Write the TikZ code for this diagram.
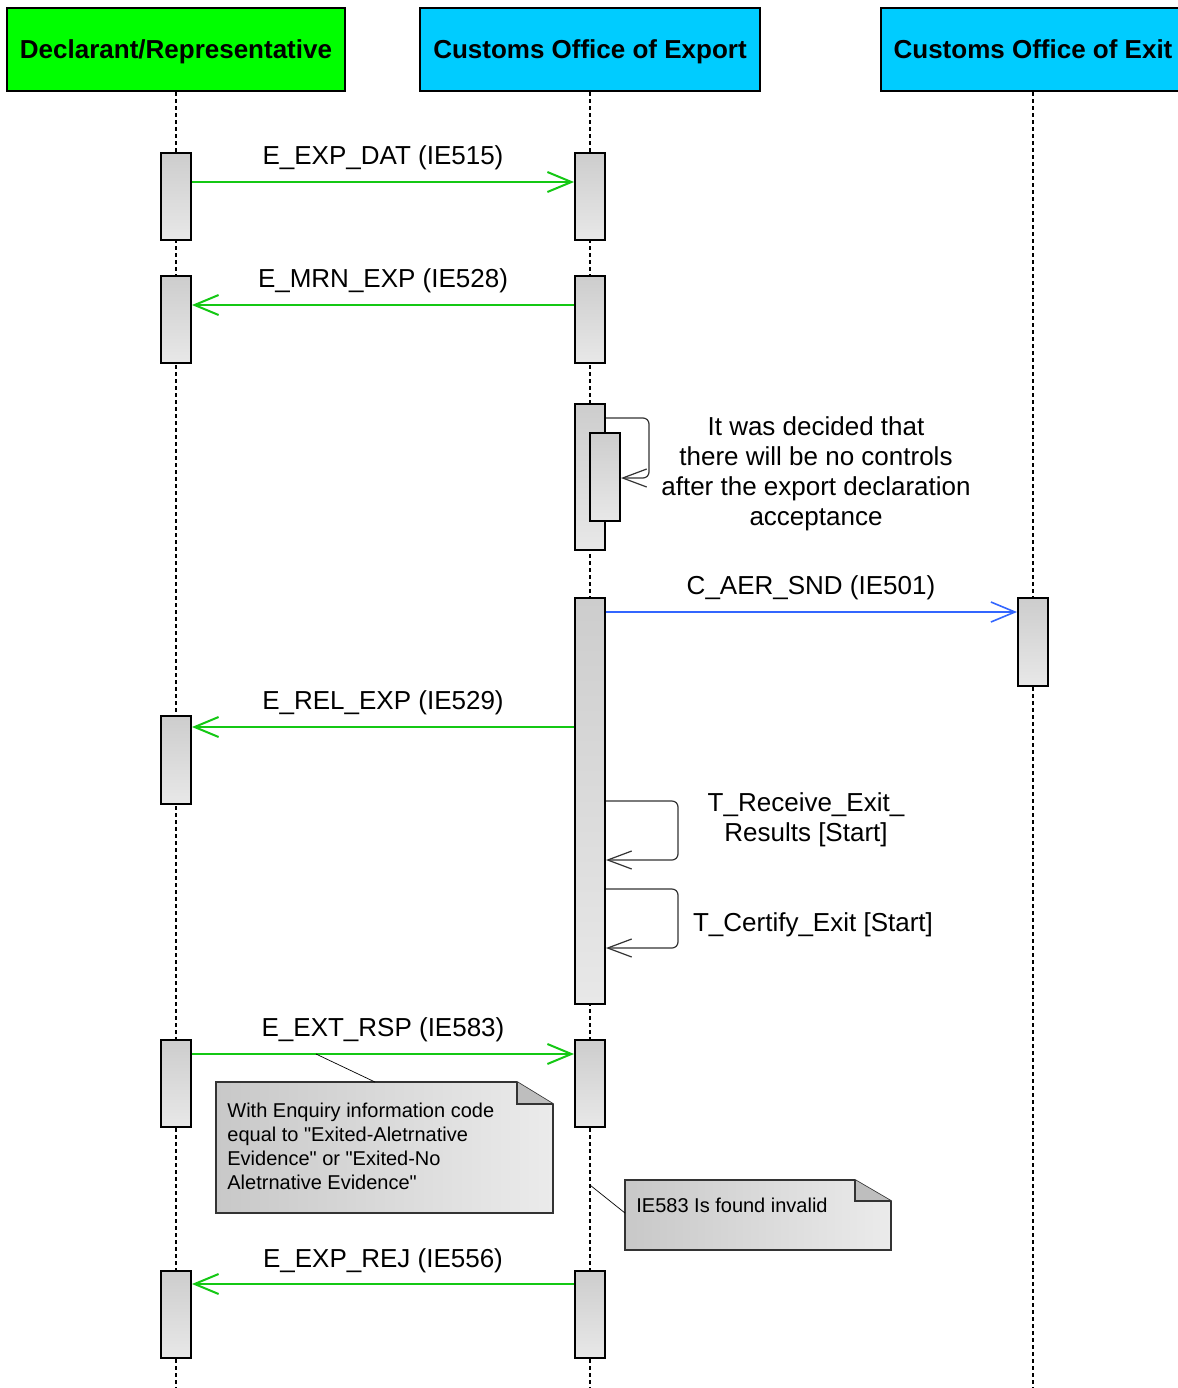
\documentclass[tikz,border=0pt]{standalone}
\usepackage{fontspec}
\setmainfont{Liberation Sans}
\usetikzlibrary{arrows.meta}
\definecolor{hdrgreen}{RGB}{0,255,0}
\definecolor{hdrcyan}{RGB}{0,204,255}
\definecolor{msggreen}{RGB}{20,200,20}
\definecolor{msgblue}{RGB}{51,102,255}
\definecolor{actTop}{RGB}{205,205,205}
\definecolor{actBot}{RGB}{232,232,232}
\definecolor{noteL}{RGB}{200,200,200}
\definecolor{noteR}{RGB}{235,235,235}
\definecolor{foldc}{RGB}{190,190,190}
\tikzset{
  header/.style={draw=black, line width=1pt, minimum width=#1, minimum height=41.5pt, font=\bfseries\fontsize{13}{15}\selectfont, inner sep=0, text height=11.5pt, text depth=2.5pt},
  lifeline/.style={black, line width=0.6pt, dash pattern=on 2pt off 1.5pt},
  act/.style={draw=black, line width=1pt, top color=actTop, bottom color=actBot, minimum width=15pt, minimum height=#1, inner sep=0},
  gmsg/.style={msggreen, line width=1pt, -{Straight Barb[length=12pt,width=10pt,line width=1pt]}},
  bmsg/.style={msgblue, line width=0.8pt, -{Straight Barb[length=12pt,width=10pt,line width=0.8pt]}},
  selfmsg/.style={black!80, line width=0.6pt, rounded corners=3pt, -{Straight Barb[length=12pt,width=9pt,line width=0.6pt]}},
  msglabel/.style={font=\fontsize{13}{15}\selectfont, anchor=base, inner sep=0},
  notebody/.style={draw=black!80, line width=0.8pt, left color=noteL, right color=noteR},
  notelink/.style={black, line width=0.35pt},
}
\begin{document}
\begin{tikzpicture}[x=0.5pt,y=-0.5pt]
\useasboundingbox (0,0) rectangle (1178,1388);
\clip (0,0) rectangle (1178,1388);
\fill[white] (0,0) rectangle (1178,1388);

% headers
\node[header=169pt, fill=hdrgreen] (h1) at (176,49.5) {Declarant/Representative};
\node[header=170pt, fill=hdrcyan] (h2) at (590,49.5) {Customs Office of Export};
\node[header=152pt, fill=hdrcyan] (h3) at (1033,49.5) {Customs Office of Exit};

% lifelines
\coordinate (e1) at (176,1388);
\coordinate (e2) at (590,1388);
\coordinate (e3) at (1033,1388);
\draw[lifeline] (h1.south) -- (e1);
\draw[lifeline] (h2.south) -- (e2);
\draw[lifeline] (h3.south) -- (e3);

% activation boxes
\node[act=43.5pt] (a1) at (176,196.5) {};
\node[act=43.5pt] (a2) at (176,319.5) {};
\node[act=44pt]   (a3) at (176,760) {};
\node[act=43.5pt] (a4) at (176,1083.5) {};
\node[act=43.5pt] (a5) at (176,1314.5) {};

\node[act=43.5pt] (b1) at (590,196.5) {};
\node[act=43.5pt] (b2) at (590,319.5) {};
\node[act=73pt]   (b3) at (590,477) {};
\node[act=44pt]   (b3i) at (605,477) {};
\node[act=203pt]  (b4) at (590,801) {};
\node[act=43.5pt] (b5) at (590,1083.5) {};
\node[act=43.5pt] (b6) at (590,1314.5) {};

\node[act=44pt]   (c1) at (1033,642) {};

% messages
\draw[gmsg] (a1.east |- 0,182) -- (b1.west |- 0,182);
\node[msglabel] (l1) at (383,164) {E\_EXP\_DAT (IE515)};

\draw[gmsg] (b2.west |- 0,305) -- (a2.east |- 0,305);
\node[msglabel] (l2) at (383,287) {E\_MRN\_EXP (IE528)};

\draw[selfmsg] (b3.east |- 0,418) -- (649,418) -- (649,478) -- (b3i.east |- 0,478);
\node[font=\fontsize{13}{15}\selectfont, align=center, inner sep=0] (n1) at (816,474)
  {It was decided that\\there will be no controls\\after the export declaration\\acceptance};

\draw[bmsg] (b4.east |- 0,612) -- (c1.west |- 0,612);
\node[msglabel] (l3) at (811,594) {C\_AER\_SND (IE501)};

\draw[gmsg] (b4.west |- 0,727) -- (a3.east |- 0,727);
\node[msglabel] (l4) at (383,709) {E\_REL\_EXP (IE529)};

\draw[selfmsg] (b4.east |- 0,801) -- (678,801) -- (678,860) -- (b4.east |- 0,860);
\node[font=\fontsize{13}{15}\selectfont, align=center, inner sep=0] (n2) at (806,820)
  {T\_Receive\_Exit\_\\Results [Start]};

\draw[selfmsg] (b4.east |- 0,889) -- (678,889) -- (678,948) -- (b4.east |- 0,948);
\node[msglabel] (l5) at (813,931) {T\_Certify\_Exit [Start]};

\draw[gmsg] (a4.east |- 0,1054) -- (b5.west |- 0,1054);
\node[msglabel] (l6) at (383,1036) {E\_EXT\_RSP (IE583)};

\draw[gmsg] (b6.west |- 0,1284) -- (a5.east |- 0,1284);
\node[msglabel] (l7) at (383,1267) {E\_EXP\_REJ (IE556)};

% note 1
\path[notebody] (216,1082) -- (517,1082) -- (553,1104) -- (553,1213) -- (216,1213) -- cycle;
\fill[foldc] (517,1082) -- (517,1104) -- (553,1104) -- cycle;
\draw[black!80, line width=0.8pt] (517,1082) -- (517,1104) -- (553,1104);
\coordinate (nt1) at (375,1082);
\coordinate (ms1) at (316,1054);
\draw[notelink] (ms1) -- (nt1);
\node[anchor=north west, align=left, inner sep=0, font=\fontsize{10}{11.85}\selectfont] (t1) at (227,1103)
  {With Enquiry information code\\equal to \textquotedbl Exited-Aletrnative\\Evidence\textquotedbl{} or \textquotedbl Exited-No\\Aletrnative Evidence\textquotedbl};

% note 2
\path[notebody] (625,1180) -- (855,1180) -- (891,1201) -- (891,1250) -- (625,1250) -- cycle;
\fill[foldc] (855,1180) -- (855,1201) -- (891,1201) -- cycle;
\draw[black!80, line width=0.8pt] (855,1180) -- (855,1201) -- (891,1201);
\coordinate (nt2) at (625,1213);
\coordinate (ll2) at (590,1185);
\draw[notelink] (ll2) -- (nt2);
\node[anchor=west, inner sep=0, font=\fontsize{10}{12}\selectfont] (t2) at (636,1205) {IE583 Is found invalid};
\end{tikzpicture}
\end{document}
